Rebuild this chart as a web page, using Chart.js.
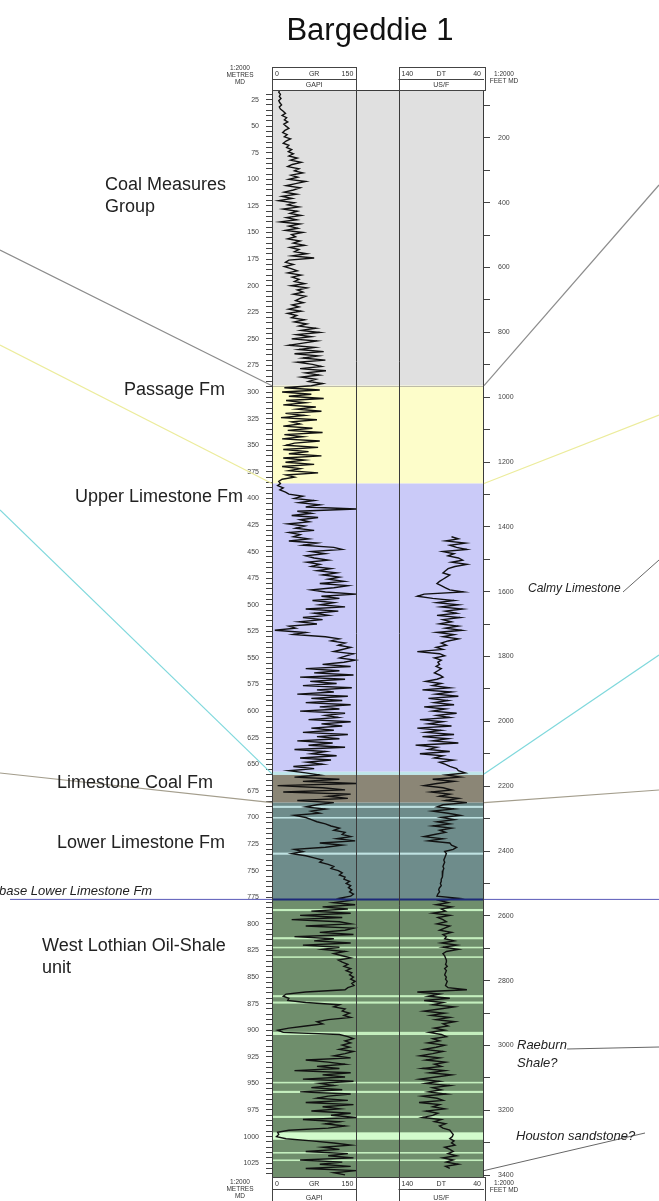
<!DOCTYPE html>
<html>
<head>
<meta charset="utf-8">
<script src="https://cdn.jsdelivr.net/npm/chart.js@4.4.1/dist/chart.umd.min.js"></script>
<style>
  html, body { margin: 0; padding: 0; background: #fff; }
  canvas { display: block; }
</style>
</head>
<body>
<canvas id="logChart" width="659" height="1201"></canvas>
<script>
// depth window of the log, metres MD
const depthTop = 16;
const depthBase = 1038;
const FT = 0.3048;

// formations
const zoneNames = ['Coal Measures Group', 'Passage Fm', 'Upper Limestone Fm', 'Top Limestone Coal', 'Limestone Coal Fm', 'Lower Limestone Fm', 'West Lothian Oil-Shale unit'];
const zoneTops = [16, 294, 386, 657, 660, 686, 777];
const zoneBases = [294, 386, 657, 660, 686, 777, 1038];
const zoneColors = ['#e0e0e0', '#fdfdca', '#cacaf8', '#bfe6ea', '#8b8676', '#6e8c8b', '#6f8e6c'];

// thin limestone beds
const limeBands = [[689, 691], [699.5, 701], [733, 735]];
const shaleUnitBands = [[786, 788], [812.5, 814.5], [821.5, 823], [830.5, 832], [867, 869], [873, 875], [901.5, 904.5], [948.5, 950], [957, 959], [980.5, 982.5], [996, 1003], [1014.5, 1016], [1021.5, 1023]];

const baseLowerLimestone = 777;

// GR, GAPI, one sample every 2 m from 16 m
const grTop = 16;
const grStep = 2;
const grValues = [
  14,12,15,13,16,12,14,17,13,15,
  20,24,18,26,22,28,21,25,30,23,
  19,27,22,33,25,20,30,26,35,29,
  38,30,45,33,52,36,28,48,40,55,
  34,46,30,60,42,25,50,38,22,44,
  18,36,12,40,28,48,20,45,32,52,
  26,44,15,50,30,46,24,55,35,42,
  28,50,38,58,32,48,40,62,36,75,
  30,24,38,22,34,45,28,52,36,48,
  40,58,34,62,45,55,38,60,50,42,
  56,36,48,30,52,28,44,35,58,40,
  62,48,78,52,85,44,70,35,80,55,
  30,76,48,92,40,82,55,95,45,72,
  88,50,96,60,84,52,78,65,90,70,
  22,85,18,70,30,92,25,60,20,78,
  45,88,24,58,16,80,35,50,20,72,
  28,90,22,55,18,85,40,25,82,20,
  65,30,88,20,58,24,75,18,50,30,
  82,25,40,18,12,15,10,20,14,24,
  30,55,40,75,48,85,60,150,45,70,
  35,82,50,66,28,58,42,75,30,50,
  38,65,30,80,55,110,125,70,95,60,
  75,100,62,85,70,105,80,115,90,120,
  100,128,85,135,110,70,95,150,88,120,
  72,110,85,130,60,118,75,100,55,90,
  48,80,30,42,5,60,38,95,120,105,
  130,118,140,125,110,145,132,120,148,128,
  90,140,60,120,75,145,50,130,68,115,
  55,142,80,110,45,135,70,125,60,140,
  85,120,50,130,95,118,65,140,88,125,
  70,110,55,135,80,120,45,108,65,130,
  40,95,70,115,50,105,62,90,38,75,
  30,60,85,40,120,55,150,10,90,130,
  20,140,100,135,45,110,80,60,95,70,
  85,40,60,70,80,95,105,120,110,130,
  125,140,115,148,85,125,95,40,55,35,
  60,75,90,85,100,110,105,118,125,120,
  130,128,138,132,140,136,142,138,145,140,
  120,140,110,148,90,135,70,140,50,125,
  35,120,140,60,145,130,85,145,40,110,
  75,140,55,120,90,130,110,125,140,118,
  125,135,128,140,132,142,138,145,140,148,
  142,146,135,130,60,25,20,30,28,60,
  120,110,130,125,138,128,140,100,80,90,
  60,30,10,20,120,135,145,130,140,125,
  138,120,145,130,110,140,60,100,130,80,
  120,40,140,90,130,55,145,85,110,70,
  125,50,140,100,80,135,60,145,90,120,
  70,140,105,150,55,120,95,130,100,30,
  10,12,8,25,70,110,140,90,120,60,
  135,100,145,50,125,85,140,60,150,110,
  130
];

// DT, us/ft, one sample every 2 m from 436 m
const dtTop = 436;
const dtStep = 2;
const dtValues = [
  78,70,85,62,80,72,60,88,75,82,
  70,65,78,60,74,82,85,88,80,84,
  88,92,95,90,85,80,64,110,118,100,
  75,95,70,90,65,85,72,95,68,88,
  78,92,70,85,66,95,75,88,70,82,
  90,84,96,88,118,92,86,98,90,94,
  92,96,90,94,98,92,88,95,108,90,
  100,80,112,78,96,70,105,82,98,75,
  110,85,100,72,95,80,115,88,105,78,
  118,90,108,75,112,82,100,70,120,95,
  105,80,115,88,98,76,92,85,80,72,
  70,62,84,68,100,75,95,110,88,78,
  102,80,92,70,85,60,88,95,75,100,
  82,68,90,75,95,80,100,78,92,85,
  98,110,88,105,80,78,72,76,86,84,
  85,86,87,86,87,88,87,88,89,88,
  89,90,90,91,90,92,93,92,94,95,
  70,92,82,96,78,90,85,100,80,94,
  88,84,95,80,86,92,78,88,84,86,
  75,90,72,88,70,84,88,86,85,84,
  84,85,83,86,84,85,86,84,85,83,
  84,85,82,60,118,92,105,80,110,88,
  100,75,92,110,86,102,80,96,74,88,
  82,98,86,104,90,84,100,92,106,86,
  96,110,88,100,115,92,108,85,98,90,
  112,86,104,78,96,115,92,108,80,100,
  90,105,84,112,95,88,116,92,100,86,
  108,94,100,112,90,98,85,92,88,80,
  78,76,77,80,75,78,74,86,80,76,
  82,72,88,76,84,70,85,80
];

// track scales
const grMin = 0, grMax = 150;
const dtLeft = 140, dtRight = 40;
const metreLabelStep = 25, metreTickStep = 5;
const feetLabelStep = 200, feetTickStep = 100;

const grPoints = grValues.map((v, i) => ({ x: v, y: grTop + i * grStep }));
const dtPoints = dtValues.map((v, i) => ({ x: v, y: dtTop + i * dtStep }));

const FONT = '"Liberation Sans", Arial, sans-serif';

function seg(ctx, x1, y1, x2, y2) {
  ctx.beginPath();
  ctx.moveTo(x1, y1);
  ctx.lineTo(x2, y2);
  ctx.stroke();
}

// header / footer box over a track
function trackBox(ctx, l, r, top, mid, bot, row1, row2) {
  ctx.strokeStyle = '#444';
  ctx.lineWidth = 1;
  ctx.strokeRect(Math.round(l) + 0.5, top + 0.5, Math.round(r - l), bot - top);
  seg(ctx, l, mid + 0.5, r, mid + 0.5);
  ctx.fillStyle = '#333';
  ctx.font = '7px ' + FONT;
  ctx.textBaseline = 'middle';
  const ym = (top + mid) / 2 + 1;
  ctx.textAlign = 'left';   ctx.fillText(row1[0], l + 3, ym);
  ctx.textAlign = 'center'; ctx.fillText(row1[1], (l + r) / 2, ym);
  ctx.textAlign = 'right';  ctx.fillText(row1[2], r - 3, ym);
  ctx.textAlign = 'center'; ctx.fillText(row2, (l + r) / 2, (mid + bot) / 2 + 1);
}

function stack(ctx, lines, x, y0, dy) {
  lines.forEach((t, i) => ctx.fillText(t, x, y0 + i * dy));
}

const logDecor = {
  id: 'logDecor',
  beforeDatasetsDraw(chart) {
    const { ctx, chartArea: a, scales: { y } } = chart;
    ctx.save();
    zoneTops.forEach((t, i) => {
      const y0 = y.getPixelForValue(t), y1 = y.getPixelForValue(zoneBases[i]);
      ctx.fillStyle = zoneColors[i];
      ctx.fillRect(a.left, y0, a.right - a.left, y1 - y0);
    });
    limeBands.forEach(([t, b]) => {
      const y0 = y.getPixelForValue(t), y1 = y.getPixelForValue(b);
      ctx.fillStyle = '#bfe2e2';
      ctx.fillRect(a.left, y0, a.right - a.left, y1 - y0);
    });
    shaleUnitBands.forEach(([t, b]) => {
      const y0 = y.getPixelForValue(t), y1 = y.getPixelForValue(b);
      ctx.fillStyle = (b - t) > 4 ? '#d2fbcc' : '#c4efbe';
      ctx.fillRect(a.left, y0, a.right - a.left, y1 - y0);
    });
    ctx.strokeStyle = '#bdbca6';
    ctx.lineWidth = 1;
    const yb = Math.round(y.getPixelForValue(zoneTops[1])) + 0.5;
    seg(ctx, a.left, yb, a.right, yb);
    ctx.restore();
  },
  afterDatasetsDraw(chart) {
    const { ctx, chartArea: a, scales: { y } } = chart;
    const yb = y.getPixelForValue(baseLowerLimestone);
    ctx.save();
    ctx.strokeStyle = '#1e2a7a';
    ctx.lineWidth = 2;
    seg(ctx, a.left, yb, a.right, yb);
    ctx.restore();
  },
  afterDraw(chart) {
    const { ctx, chartArea: a, scales } = chart;
    const y = scales.y, xg = scales.xGR, xd = scales.xDT;
    const grL = xg.getPixelForValue(grMin), grR = xg.getPixelForValue(grMax);
    const dtL = xd.getPixelForValue(dtLeft), dtR = xd.getPixelForValue(dtRight);
    ctx.save();

    // track frames
    ctx.strokeStyle = '#3a3a3a';
    ctx.lineWidth = 1;
    ctx.strokeRect(Math.round(a.left) + 0.5, Math.round(a.top) + 0.5, Math.round(a.right - a.left) - 1, Math.round(a.bottom - a.top));
    seg(ctx, Math.round(grR) + 0.5, a.top, Math.round(grR) + 0.5, a.bottom);
    seg(ctx, Math.round(dtL) + 0.5, a.top, Math.round(dtL) + 0.5, a.bottom);

    // headers and footers
    trackBox(ctx, grL, grR, 67, 79, 90, ['0', 'GR', '150'], 'GAPI');
    trackBox(ctx, dtL, dtR, 67, 79, 90, ['140', 'DT', '40'], 'US/F');
    trackBox(ctx, grL, grR, 1177, 1189, 1205, ['0', 'GR', '150'], 'GAPI');
    trackBox(ctx, dtL, dtR, 1177, 1189, 1205, ['140', 'DT', '40'], 'US/F');
    ctx.fillStyle = '#333';
    ctx.font = '6.5px ' + FONT;
    ctx.textAlign = 'center';
    ctx.textBaseline = 'middle';
    stack(ctx, ['1:2000', 'METRES', 'MD'], 240, 68, 7);
    stack(ctx, ['1:2000', 'FEET MD'], 504, 74, 7);
    stack(ctx, ['1:2000', 'METRES', 'MD'], 240, 1182, 7);
    stack(ctx, ['1:2000', 'FEET MD'], 504, 1183, 7);

    // title
    ctx.fillStyle = '#111';
    ctx.font = '31px ' + FONT;
    ctx.fillText('Bargeddie 1', 370, 31);

    // correlation lines to the formation tops
    const links = [
      { depth: 294, color: '#8c8c8c', left: 250, right: 185 },
      { depth: 386, color: '#ecec9c', left: 345, right: 415 },
      { depth: 659, color: '#7fd8dc', left: 510, right: 655 },
      { depth: 686, color: '#a39d8c', left: 773, right: 790 }
    ];
    ctx.lineWidth = 1.2;
    links.forEach(k => {
      const yy = y.getPixelForValue(k.depth);
      ctx.strokeStyle = k.color;
      seg(ctx, 0, k.left, a.left, yy);
      seg(ctx, a.right, yy, 659, k.right);
    });
    const yb = y.getPixelForValue(baseLowerLimestone);
    ctx.strokeStyle = '#5a5ab8';
    ctx.lineWidth = 1;
    seg(ctx, 10, yb, a.left, yb);
    seg(ctx, a.right, yb, 659, yb);
    ctx.strokeStyle = '#666';
    seg(ctx, 623, 592, 659, 560);
    seg(ctx, 567, 1049, 659, 1047);
    seg(ctx, a.right, y.getPixelForValue(1032), 645, 1133);

    // formation names
    ctx.fillStyle = '#222';
    ctx.textAlign = 'left';
    ctx.font = '18px ' + FONT;
    stack(ctx, ['Coal Measures', 'Group'], 105, 185, 22);
    ctx.fillText('Passage Fm', 124, 390);
    ctx.fillText('Upper Limestone Fm', 75, 497);
    ctx.fillText('Limestone Coal Fm', 57, 783);
    ctx.fillText('Lower Limestone Fm', 57, 843);
    stack(ctx, ['West Lothian Oil-Shale', 'unit'], 42, 946, 22);
    ctx.font = 'italic 13px ' + FONT;
    ctx.fillText('base Lower Limestone Fm', -1, 891);
    ctx.fillText('Raeburn', 517, 1045);
    ctx.fillText('Shale?', 517, 1063);
    ctx.fillText('Houston sandstone?', 516, 1136);
    ctx.font = 'italic 12px ' + FONT;
    ctx.fillText('Calmy Limestone', 528, 589);
    ctx.restore();
  }
};

function everyStep(from, to, step) {
  const t = [];
  for (let v = Math.ceil(from / step) * step; v <= to; v += step) t.push({ value: v });
  return t;
}

const ctx = document.getElementById('logChart').getContext('2d');

const logChart = new Chart(ctx, {
  type: 'scatter',
  data: {
    datasets: [{
      label: 'GR',
      data: grPoints,
      xAxisID: 'xGR',
      yAxisID: 'y',
      showLine: true,
      borderColor: '#111',
      borderWidth: 1.4,
      pointRadius: 0,
      tension: 0
    }, {
      label: 'DT',
      data: dtPoints,
      xAxisID: 'xDT',
      yAxisID: 'y',
      showLine: true,
      borderColor: '#111',
      borderWidth: 1.4,
      pointRadius: 0,
      tension: 0
    }]
  },
  options: {
    responsive: false,
    animation: false,
    layout: { padding: { top: 90, bottom: 24, left: 0, right: 0 } },
    plugins: {
      legend: { display: false },
      tooltip: { enabled: false }
    },
    scales: {
      // GR track spans 272-356 px of a 272-484 px chart area
      xGR: { type: 'linear', axis: 'x', display: false, min: grMin, max: grMin + (grMax - grMin) * 212 / 84.3 },
      xDT: { type: 'linear', axis: 'x', display: false, reverse: true, min: dtRight, max: dtRight + (dtLeft - dtRight) * 212 / 85.5 },
      y: {
        type: 'linear',
        position: 'left',
        reverse: true,
        min: depthTop,
        max: depthBase,
        afterFit: s => { s.width = 272; },
        afterBuildTicks: s => { s.ticks = everyStep(depthTop, depthBase, metreTickStep); },
        grid: { drawOnChartArea: false, tickLength: 6, color: '#444', tickWidth: 1 },
        border: { display: false },
        ticks: {
          autoSkip: false,
          padding: 7,
          color: '#444',
          font: { family: 'Liberation Sans', size: 7 },
          callback: v => (v % metreLabelStep === 0 ? v : '')
        }
      },
      y2: {
        type: 'linear',
        axis: 'y',
        position: 'right',
        reverse: true,
        min: depthTop / FT,
        max: depthBase / FT,
        afterFit: s => { s.width = 175; },
        afterBuildTicks: s => { s.ticks = everyStep(depthTop / FT, depthBase / FT, feetTickStep); },
        grid: { drawOnChartArea: false, tickLength: 6, color: '#444', tickWidth: 1 },
        border: { display: false },
        ticks: {
          autoSkip: false,
          padding: 8,
          color: '#444',
          font: { family: 'Liberation Sans', size: 7 },
          callback: v => (v % feetLabelStep === 0 ? v : '')
        }
      }
    }
  },
  plugins: [logDecor]
});
</script>
</body>
</html>
